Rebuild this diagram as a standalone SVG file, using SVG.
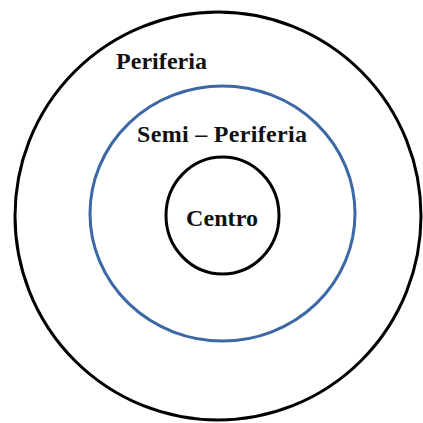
<svg xmlns="http://www.w3.org/2000/svg" width="423" height="423" viewBox="0 0 423 423">
<style>
.lbl{font-family:"Liberation Serif","Times New Roman",serif;font-weight:bold;font-size:24px;fill:#111}
.ring{fill:none;stroke-width:3}
</style>
<rect width="423" height="423" fill="#fff"/>
<g id="periferia">
<ellipse class="ring" cx="218" cy="216" rx="203" ry="204" stroke="#000"/>
<text class="lbl" x="116" y="69" textLength="91" lengthAdjust="spacing">Periferia</text>
</g>
<g id="semi-periferia">
<ellipse class="ring" cx="222.5" cy="213.5" rx="132.5" ry="127.5" stroke="#3d68a6"/>
<text class="lbl" x="137" y="142" textLength="170" lengthAdjust="spacing">Semi – Periferia</text>
</g>
<g id="centro">
<ellipse class="ring" cx="222.5" cy="215.5" rx="56.5" ry="58.5" stroke="#000"/>
<text class="lbl" x="186" y="226" textLength="72" lengthAdjust="spacing">Centro</text>
</g>
<g id="connectors"/>
</svg>
